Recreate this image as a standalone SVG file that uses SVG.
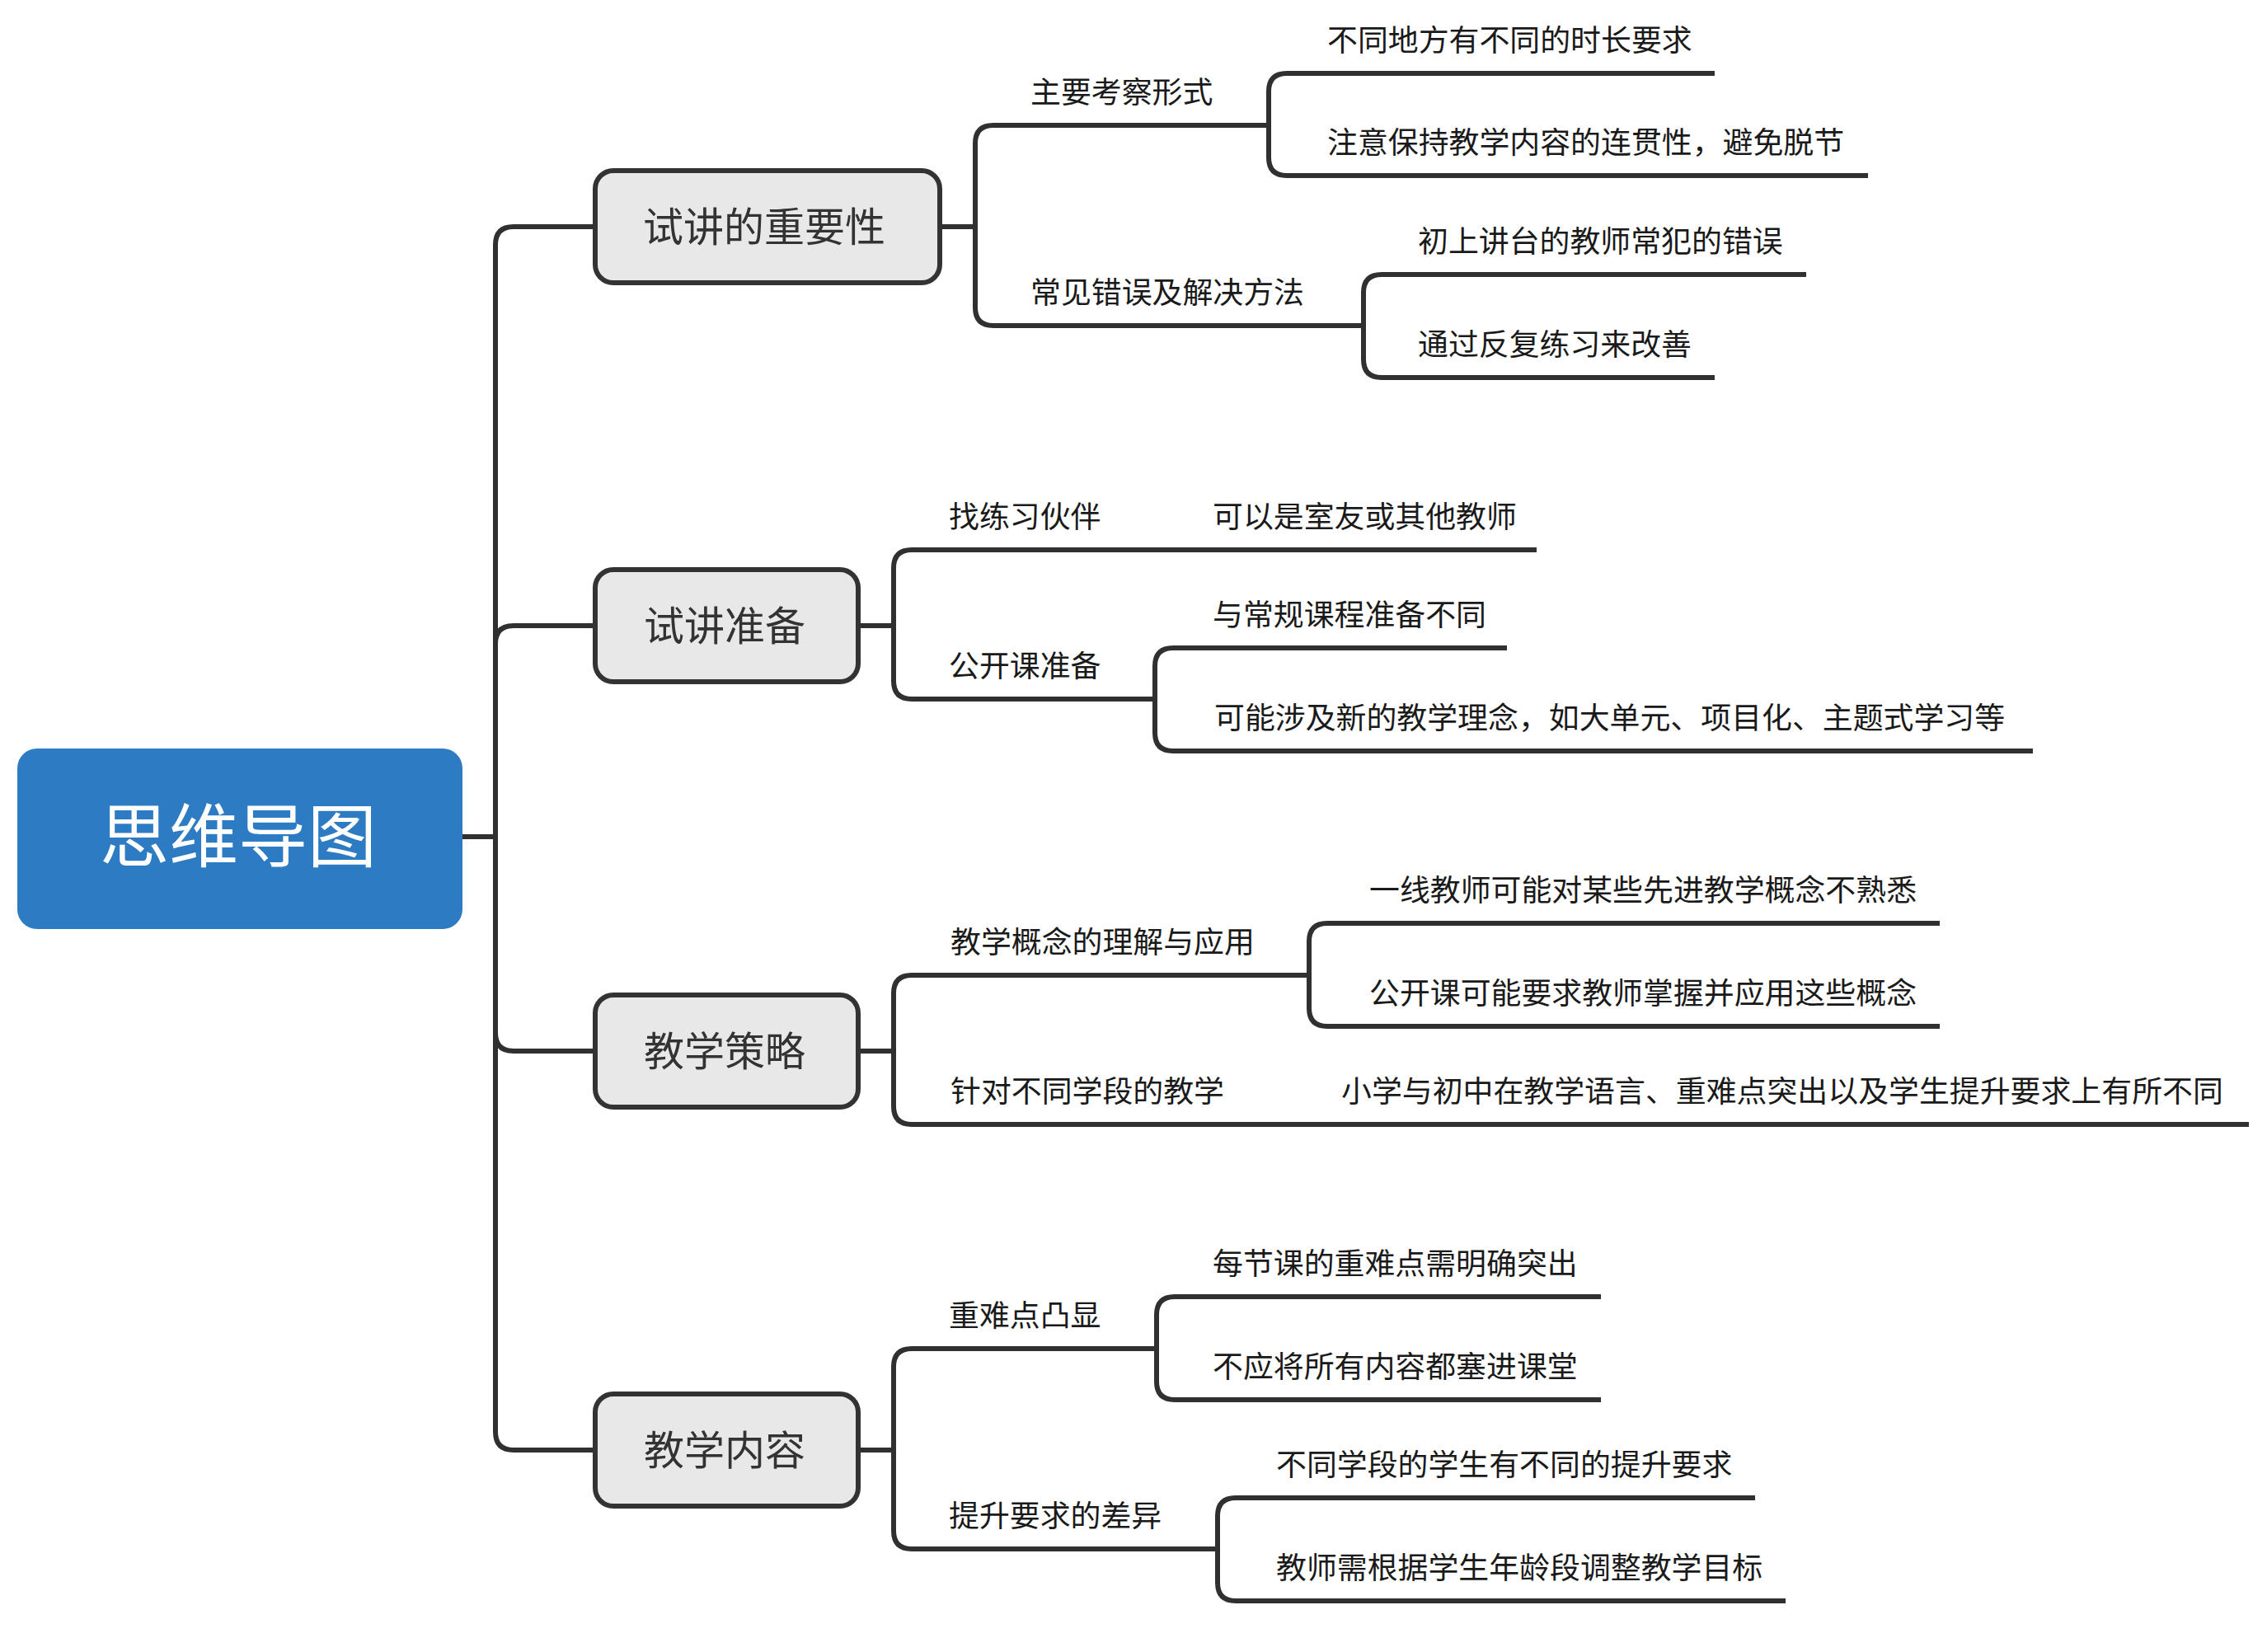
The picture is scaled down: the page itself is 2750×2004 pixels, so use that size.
<svg xmlns="http://www.w3.org/2000/svg" width="2750" height="2004" viewBox="0 0 2750 2004">
<style>
.c{fill:none;stroke:#303030;stroke-width:6;stroke-linejoin:round}
.n{fill:#e8e8e8;stroke:#333333;stroke-width:6}
.nt{font-family:"Noto Sans CJK SC","Noto Sans",sans-serif;font-size:49px;fill:#333333;text-anchor:middle}
.t{font-family:"Noto Sans CJK SC","Noto Sans",sans-serif;font-size:36.9px;fill:#1a1a1a}
.rt{font-family:"Noto Sans CJK SC","Noto Sans",sans-serif;font-size:84px;fill:#ffffff;text-anchor:middle}
</style>
<rect width="2750" height="2004" fill="#ffffff"/>
<g id="connectors">
<path class="c" d="M561,1015 H601 V297 Q601,275 623,275 H722"/>
<path class="c" d="M561,1015 H601 V781 Q601,759 623,759 H722"/>
<path class="c" d="M561,1015 H601 V1253 Q601,1275 623,1275 H722"/>
<path class="c" d="M561,1015 H601 V1737 Q601,1759 623,1759 H722"/>
<path class="c" d="M1140,275 H1183 V174 Q1183,152 1205,152 H1539"/>
<path class="c" d="M1140,275 H1183 V373 Q1183,395 1205,395 H1654"/>
<path class="c" d="M1539,152 V111 Q1539,89 1561,89 H2080"/>
<path class="c" d="M1539,152 V191 Q1539,213 1561,213 H2266"/>
<path class="c" d="M1654,395 V355 Q1654,333 1676,333 H2191"/>
<path class="c" d="M1654,395 V436 Q1654,458 1676,458 H2080"/>
<path class="c" d="M1041,759 H1084 V689 Q1084,667 1106,667 H1864"/>
<path class="c" d="M1041,759 H1084 V826 Q1084,848 1106,848 H1401"/>
<path class="c" d="M1401,848 V808 Q1401,786 1423,786 H1828"/>
<path class="c" d="M1401,848 V889 Q1401,911 1423,911 H2466"/>
<path class="c" d="M1041,1275 H1084 V1205 Q1084,1183 1106,1183 H1588"/>
<path class="c" d="M1041,1275 H1084 V1342 Q1084,1364 1106,1364 H2728"/>
<path class="c" d="M1588,1183 V1142 Q1588,1120 1610,1120 H2353"/>
<path class="c" d="M1588,1183 V1223 Q1588,1245 1610,1245 H2353"/>
<path class="c" d="M1041,1759 H1084 V1658 Q1084,1636 1106,1636 H1403"/>
<path class="c" d="M1041,1759 H1084 V1857 Q1084,1879 1106,1879 H1477"/>
<path class="c" d="M1403,1636 V1595 Q1403,1573 1425,1573 H1942"/>
<path class="c" d="M1403,1636 V1676 Q1403,1698 1425,1698 H1942"/>
<path class="c" d="M1477,1879 V1839 Q1477,1817 1499,1817 H2129"/>
<path class="c" d="M1477,1879 V1920 Q1477,1942 1499,1942 H2166"/>
</g>
<g id="root">
<rect x="21" y="908" width="540" height="219" rx="24" fill="#2d7bc3"/>
<text class="rt" x="289" y="1045">思维导图</text>
</g>
<g id="node-1">
<rect class="n" x="722" y="207" width="418" height="136" rx="22"/>
<text class="nt" x="927" y="293">试讲的重要性</text>
</g>
<g id="node-2">
<rect class="n" x="722" y="691" width="319" height="136" rx="22"/>
<text class="nt" x="879" y="777">试讲准备</text>
</g>
<g id="node-3">
<rect class="n" x="722" y="1207" width="319" height="136" rx="22"/>
<text class="nt" x="879" y="1293">教学策略</text>
</g>
<g id="node-4">
<rect class="n" x="722" y="1691" width="319" height="136" rx="22"/>
<text class="nt" x="879" y="1777">教学内容</text>
</g>
<g id="node-1-1"><text class="t" x="1250" y="125">主要考察形式</text></g>
<g id="node-1-1-1"><text class="t" x="1610" y="62">不同地方有不同的时长要求</text></g>
<g id="node-1-1-2"><text class="t" x="1610" y="186">注意保持教学内容的连贯性，避免脱节</text></g>
<g id="node-1-2"><text class="t" x="1250" y="368">常见错误及解决方法</text></g>
<g id="node-1-2-1"><text class="t" x="1720" y="306">初上讲台的教师常犯的错误</text></g>
<g id="node-1-2-2"><text class="t" x="1720" y="431">通过反复练习来改善</text></g>
<g id="node-2-1"><text class="t" x="1151" y="640">找练习伙伴</text></g>
<g id="node-2-1-1"><text class="t" x="1471" y="640">可以是室友或其他教师</text></g>
<g id="node-2-2"><text class="t" x="1151" y="821">公开课准备</text></g>
<g id="node-2-2-1"><text class="t" x="1471" y="759">与常规课程准备不同</text></g>
<g id="node-2-2-2"><text class="t" x="1473" y="884">可能涉及新的教学理念，如大单元、项目化、主题式学习等</text></g>
<g id="node-3-1"><text class="t" x="1153" y="1156">教学概念的理解与应用</text></g>
<g id="node-3-1-1"><text class="t" x="1661" y="1093">一线教师可能对某些先进教学概念不熟悉</text></g>
<g id="node-3-1-2"><text class="t" x="1661" y="1218">公开课可能要求教师掌握并应用这些概念</text></g>
<g id="node-3-2"><text class="t" x="1153" y="1337">针对不同学段的教学</text></g>
<g id="node-3-2-1"><text class="t" x="1627" y="1337">小学与初中在教学语言、重难点突出以及学生提升要求上有所不同</text></g>
<g id="node-4-1"><text class="t" x="1151" y="1609">重难点凸显</text></g>
<g id="node-4-1-1"><text class="t" x="1471" y="1546">每节课的重难点需明确突出</text></g>
<g id="node-4-1-2"><text class="t" x="1471" y="1671">不应将所有内容都塞进课堂</text></g>
<g id="node-4-2"><text class="t" x="1151" y="1852">提升要求的差异</text></g>
<g id="node-4-2-1"><text class="t" x="1548" y="1790">不同学段的学生有不同的提升要求</text></g>
<g id="node-4-2-2"><text class="t" x="1548" y="1915">教师需根据学生年龄段调整教学目标</text></g>
</svg>
